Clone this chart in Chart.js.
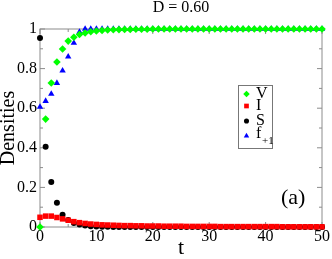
<!DOCTYPE html>
<html lang="en">
<head>
<meta charset="UTF-8">
<title>Densities, D = 0.60</title>
<script src="https://cdn.jsdelivr.net/npm/chart.js"></script>
<style>
  html, body { margin: 0; padding: 0; background: #fff; }
</style>
</head>
<body>
<canvas id="grafico" width="332" height="259"></canvas>
<script>
// tempo t
const tempos = [0, 1, 2, 3, 4, 5, 6, 7, 8, 9,
  10, 11, 12, 13, 14, 15, 16, 17, 18, 19,
  20, 21, 22, 23, 24, 25, 26, 27, 28, 29,
  30, 31, 32, 33, 34, 35, 36, 37, 38, 39,
  40, 41, 42, 43, 44, 45, 46, 47, 48, 49, 50];

// V
const densV = [0, 0.545, 0.727, 0.833, 0.899, 0.939, 0.958, 0.972, 0.980, 0.986,
  0.990, 0.993, 0.995, 0.996, 0.997, 0.998, 0.998, 0.999, 0.999, 0.999,
  1, 1, 1, 1, 1, 1, 1, 1, 1, 1,
  1, 1, 1, 1, 1, 1, 1, 1, 1, 1,
  1, 1, 1, 1, 1, 1, 1, 1, 1, 1, 1];

// I
const densI = [0.049, 0.055, 0.055, 0.048, 0.041, 0.034, 0.027, 0.022, 0.018, 0.015,
  0.013, 0.011, 0.010, 0.009, 0.008, 0.007, 0.007, 0.006, 0.006, 0.005,
  0.005, 0.005, 0.004, 0.004, 0.004, 0.004, 0.003, 0.003, 0.003, 0.003,
  0.003, 0.003, 0.002, 0.002, 0.002, 0.002, 0.002, 0.002, 0.002, 0.002,
  0.002, 0.002, 0.002, 0.001, 0.001, 0.001, 0.001, 0.001, 0.001, 0.001, 0.001];

// S
const densS = [0.955, 0.405, 0.227, 0.123, 0.062, 0.035, 0.020, 0.012, 0.007, 0.004,
  0.002, 0.001, 0.001, 0, 0, 0, 0, 0, 0, 0,
  0, 0, 0, 0, 0, 0, 0, 0, 0, 0,
  0, 0, 0, 0, 0, 0, 0, 0, 0, 0,
  0, 0, 0, 0, 0, 0, 0, 0, 0, 0, 0];

// f_{+1}
const densF = [0.606, 0.636, 0.672, 0.727, 0.790, 0.860, 0.930, 0.985, 1, 1,
  1, 1, 1, 1, 1, 1, 1, 1, 1, 1,
  1, 1, 1, 1, 1, 1, 1, 1, 1, 1,
  1, 1, 1, 1, 1, 1, 1, 1, 1, 1,
  1, 1, 1, 1, 1, 1, 1, 1, 1, 1, 1];

const fonteSerif = "'Liberation Serif', 'DejaVu Serif', serif";

function pontos(valores) {
  return tempos.map((t, i) => ({ x: t, y: valores[i] }));
}

const series = [
  { label: 'V', dados: densV, cor: '#00ff00', estilo: 'rectRot', raio: 3.8 },
  { label: 'I', dados: densI, cor: '#ff0000', estilo: 'rect', raio: 3.9 },
  { label: 'S', dados: densS, cor: '#000000', estilo: 'circle', raio: 3 },
  { label: 'f+1', dados: densF, cor: '#0000ff', estilo: 'triangle', raio: 3.7 }
];

// moldura e marcas para dentro, nos quatro lados
const molduraPlugin = {
  id: 'moldura',
  beforeDatasetsDraw(chart) {
    const { ctx, chartArea: a, scales } = chart;
    ctx.save();
    ctx.strokeStyle = '#8c8c8c';
    ctx.lineWidth = 1;
    ctx.strokeRect(a.left, a.top, a.right - a.left, a.bottom - a.top);
    ctx.beginPath();
    const xs = scales.x.ticks.map(t => t.value);
    xs.forEach((v, i) => {
      const px = scales.x.getPixelForValue(v);
      ctx.moveTo(px, a.bottom); ctx.lineTo(px, a.bottom - 5);
      ctx.moveTo(px, a.top); ctx.lineTo(px, a.top + 5);
      if (i < xs.length - 1) {
        const pm = scales.x.getPixelForValue((v + xs[i + 1]) / 2);
        ctx.moveTo(pm, a.bottom); ctx.lineTo(pm, a.bottom - 3);
        ctx.moveTo(pm, a.top); ctx.lineTo(pm, a.top + 3);
      }
    });
    const ys = scales.y.ticks.map(t => t.value);
    ys.forEach((v, i) => {
      const py = scales.y.getPixelForValue(v);
      ctx.moveTo(a.left, py); ctx.lineTo(a.left + 5, py);
      ctx.moveTo(a.right, py); ctx.lineTo(a.right - 5, py);
      if (i < ys.length - 1) {
        const pm = scales.y.getPixelForValue((v + ys[i + 1]) / 2);
        ctx.moveTo(a.left, pm); ctx.lineTo(a.left + 3, pm);
        ctx.moveTo(a.right, pm); ctx.lineTo(a.right - 3, pm);
      }
    });
    ctx.stroke();
    ctx.restore();
  }
};

// titulo, legenda e rotulo (a)
const textosPlugin = {
  id: 'textos',
  afterDraw(chart) {
    const { ctx, chartArea: a } = chart;
    ctx.save();
    ctx.fillStyle = '#000';
    ctx.textBaseline = 'middle';

    ctx.font = '16px ' + fonteSerif;
    ctx.textAlign = 'center';
    ctx.fillText('D = 0.60', (a.left + a.right) / 2, 8);

    // legenda
    const bx = 238, by = 85, bw = 34, bh = 63;
    ctx.fillStyle = '#fff';
    ctx.fillRect(bx, by, bw, bh);
    ctx.strokeStyle = '#777';
    ctx.lineWidth = 1;
    ctx.strokeRect(bx + 0.5, by + 0.5, bw, bh);
    const linhasY = [94, 106, 121, 136];
    series.forEach((s, i) => {
      ctx.fillStyle = s.cor;
      ctx.strokeStyle = s.cor;
      Chart.helpers.drawPoint(ctx, {
        pointStyle: s.estilo, radius: s.raio * 0.85, rotation: 0, borderWidth: 0
      }, 246.5, linhasY[i]);
      ctx.fillStyle = '#000';
      ctx.textAlign = 'left';
      if (s.label === 'f+1') {
        ctx.font = '16px ' + fonteSerif;
        ctx.fillText('f', 256, linhasY[i] - 2);
        ctx.font = '11px ' + fonteSerif;
        ctx.fillText('+1', 262, linhasY[i] + 5);
      } else {
        ctx.font = '16px ' + fonteSerif;
        ctx.fillText(s.label, 256, linhasY[i]);
      }
    });

    ctx.font = '22px ' + fonteSerif;
    ctx.textAlign = 'left';
    ctx.fillStyle = '#000';
    ctx.fillText('(a)', 281, 198);
    ctx.restore();
  }
};

new Chart(document.getElementById('grafico'), {
  type: 'scatter',
  data: {
    datasets: series.map(s => ({
      label: s.label,
      data: pontos(s.dados),
      pointStyle: s.estilo,
      pointRadius: s.raio,
      pointHoverRadius: s.raio,
      backgroundColor: s.cor,
      borderColor: s.cor,
      borderWidth: 0,
      clip: false
    }))
  },
  options: {
    responsive: false,
    animation: false,
    layout: { padding: { left: 0, right: 9, top: 29, bottom: 0 } },
    plugins: {
      legend: { display: false },
      tooltip: { enabled: false },
      title: { display: false }
    },
    scales: {
      x: {
        type: 'linear',
        min: 0, max: 50,
        grid: { display: false, drawTicks: false },
        border: { display: false },
        ticks: {
          stepSize: 10,
          padding: 2,
          color: '#000',
          maxRotation: 0,
          font: { family: fonteSerif, size: 16, lineHeight: 1 }
        },
        title: {
          display: true,
          text: 't',
          color: '#000',
          padding: 0,
          font: { family: fonteSerif, size: 22, lineHeight: 1 }
        },
        afterFit(scale) { scale.height = 32; }
      },
      y: {
        type: 'linear',
        min: 0, max: 1,
        grid: { display: false, drawTicks: false },
        border: { display: false },
        ticks: {
          stepSize: 0.2,
          padding: 3,
          color: '#000',
          font: { family: fonteSerif, size: 16, lineHeight: 1 },
          callback: v => (Math.abs(v) < 1e-9 ? '0' : Math.abs(v - 1) < 1e-9 ? '1' : v.toFixed(1))
        },
        title: {
          display: true,
          text: 'Densities',
          color: '#000',
          padding: 0,
          font: { family: fonteSerif, size: 20, lineHeight: 0.85 }
        },
        afterFit(scale) { scale.width = 40; }
      }
    }
  },
  plugins: [molduraPlugin, textosPlugin]
});
</script>
</body>
</html>
